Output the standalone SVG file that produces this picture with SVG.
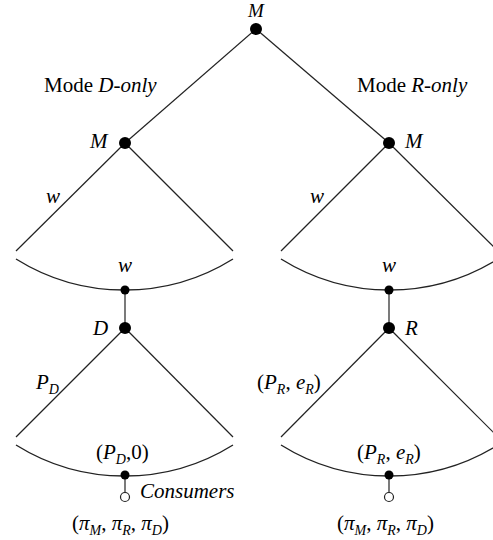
<svg xmlns="http://www.w3.org/2000/svg" width="493" height="540" viewBox="0 0 493 540">
<style>
.e{stroke:#222;stroke-width:1.2;fill:none}
.a{stroke:#222;stroke-width:1.4;fill:none}
.n{fill:#000}
.o{fill:#fff;stroke:#222;stroke-width:1.2}
text{font-family:"Liberation Serif","Times New Roman",serif;font-size:21px;fill:#000}
.i{font-style:italic}
.s{font-size:14px}
</style>
<rect width="493" height="540" fill="#fff"/>
<g id="connectors">
<line class="e" x1="256" y1="29" x2="125" y2="143"/>
<line class="e" x1="256" y1="29" x2="389" y2="143"/>
<line class="e" x1="125" y1="143" x2="16" y2="251"/>
<line class="e" x1="125" y1="143" x2="233" y2="251"/>
<line class="e" x1="389" y1="143" x2="281" y2="251"/>
<line class="e" x1="389" y1="143" x2="498" y2="251"/>
<path class="a" d="M16,259 A205,205 0 0 0 233,259"/>
<path class="a" d="M281,259 A205,205 0 0 0 498,259"/>
<line class="e" x1="125" y1="290" x2="125" y2="328"/>
<line class="e" x1="389" y1="290" x2="389" y2="328"/>
<line class="e" x1="125" y1="328" x2="16" y2="437"/>
<line class="e" x1="125" y1="328" x2="233" y2="437"/>
<line class="e" x1="389" y1="328" x2="281" y2="437"/>
<line class="e" x1="389" y1="328" x2="498" y2="437"/>
<path class="a" d="M16,445 A205,205 0 0 0 233,445"/>
<path class="a" d="M281,445 A205,205 0 0 0 498,445"/>
<line class="e" x1="125" y1="475" x2="125" y2="493"/>
<line class="e" x1="389" y1="475" x2="389" y2="493"/>
</g>
<g id="labels">
<text x="44" y="92">Mode <tspan class="i">D-only</tspan></text>
<text x="357" y="92">Mode <tspan class="i">R-only</tspan></text>
<text class="i" x="46" y="203">w</text>
<text class="i" x="310" y="203">w</text>
<text class="i" x="36" y="389">P<tspan class="s" dy="5">D</tspan></text>
<text x="257" y="389">(<tspan class="i">P</tspan><tspan class="i s" dy="5">R</tspan><tspan dy="-5">, </tspan><tspan class="i">e</tspan><tspan class="i s" dy="5">R</tspan><tspan dy="-5">)</tspan></text>
</g>
<g id="node-root"><circle class="n" cx="256" cy="29" r="6"/><text class="i" x="256" y="17" text-anchor="middle" style="font-size:19px">M</text></g>
<g id="node-mleft"><circle class="n" cx="125" cy="143" r="6"/><text class="i" x="90" y="148">M</text></g>
<g id="node-mright"><circle class="n" cx="389" cy="143" r="6"/><text class="i" x="405" y="148">M</text></g>
<g id="node-wleft"><circle class="n" cx="125" cy="290" r="4.5"/><text class="i" x="125" y="272" text-anchor="middle">w</text></g>
<g id="node-wright"><circle class="n" cx="389" cy="290" r="4.5"/><text class="i" x="389" y="272" text-anchor="middle">w</text></g>
<g id="node-d"><circle class="n" cx="125" cy="328" r="6"/><text class="i" x="93" y="335">D</text></g>
<g id="node-r"><circle class="n" cx="389" cy="328" r="6"/><text class="i" x="405" y="335">R</text></g>
<g id="node-pd"><circle class="n" cx="125" cy="475" r="4.5"/><text x="96" y="459">(<tspan class="i">P</tspan><tspan class="i s" dy="5">D</tspan><tspan dy="-5">,0)</tspan></text></g>
<g id="node-pr"><circle class="n" cx="389" cy="475" r="4.5"/><text x="357" y="459">(<tspan class="i">P</tspan><tspan class="i s" dy="5">R</tspan><tspan dy="-5">, </tspan><tspan class="i">e</tspan><tspan class="i s" dy="5">R</tspan><tspan dy="-5">)</tspan></text></g>
<g id="node-cleft"><circle class="o" cx="125" cy="497" r="4.5"/><text class="i" x="140" y="498">Consumers</text><text x="72" y="530">(<tspan class="i">π</tspan><tspan class="i s" dy="5">M</tspan><tspan dy="-5">, </tspan><tspan class="i">π</tspan><tspan class="i s" dy="5">R</tspan><tspan dy="-5">, </tspan><tspan class="i">π</tspan><tspan class="i s" dy="5">D</tspan><tspan dy="-5">)</tspan></text></g>
<g id="node-cright"><circle class="o" cx="389" cy="497" r="4.5"/><text x="337" y="530">(<tspan class="i">π</tspan><tspan class="i s" dy="5">M</tspan><tspan dy="-5">, </tspan><tspan class="i">π</tspan><tspan class="i s" dy="5">R</tspan><tspan dy="-5">, </tspan><tspan class="i">π</tspan><tspan class="i s" dy="5">D</tspan><tspan dy="-5">)</tspan></text></g>
</svg>
